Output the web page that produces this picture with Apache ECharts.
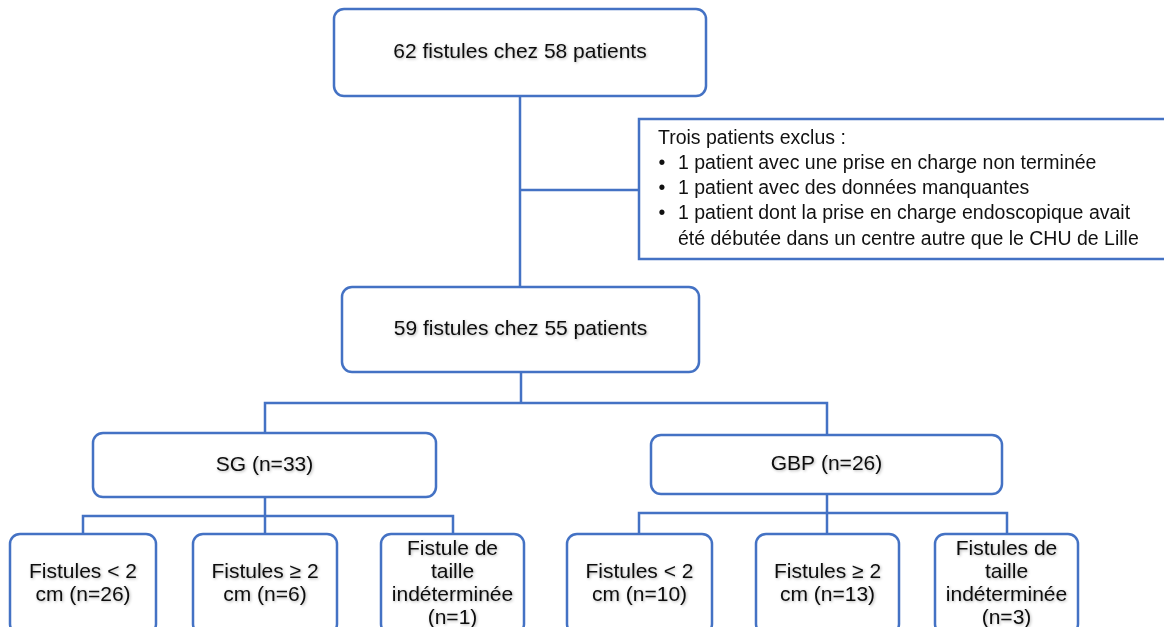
<!DOCTYPE html>
<html>
<head>
<meta charset="utf-8">
<script src="https://cdn.jsdelivr.net/npm/echarts@6/dist/echarts.min.js"></script>
<style>
html,body{margin:0;padding:0;background:#fff;}
#chart{width:1164px;height:627px;}
</style>
</head>
<body>
<div id="chart"></div>
<script>
// ---- data (text content) ----
const stageLabels = ['62 fistules chez 58 patients', '59 fistules chez 55 patients'];
const groupLabels = ['SG (n=33)', 'GBP (n=26)'];
const subgroupLabels = [
  'Fistules < 2\ncm (n=26)',
  'Fistules \u2265 2\ncm (n=6)',
  'Fistule de\ntaille\nind\u00e9termin\u00e9e\n(n=1)',
  'Fistules < 2\ncm (n=10)',
  'Fistules \u2265 2\ncm (n=13)',
  'Fistules de\ntaille\nind\u00e9termin\u00e9e\n(n=3)'
];
const exclusionTitle = 'Trois patients exclus :';
const exclusionItems = [
  '1 patient avec une prise en charge non termin\u00e9e',
  '1 patient avec des donn\u00e9es manquantes',
  '1 patient dont la prise en charge endoscopique avait\n\u00e9t\u00e9 d\u00e9but\u00e9e dans un centre autre que le CHU de Lille'
];

// ---- layout (positions in diagram units) ----
const boxLayout = [
  [334, 9, 706, 96],     // stage 0
  [342, 287, 699, 372],  // stage 1
  [93, 433, 436, 497],   // SG
  [651, 435, 1002, 494], // GBP
  [10, 534, 156, 634],
  [193, 534, 337, 634],
  [381, 534, 524, 634],
  [567, 534, 712, 634],
  [756, 534, 899, 634],
  [935, 534, 1078, 634]
];
const sideBoxLayout = [[639, 119, 1180, 259]];
const connectorLayout = [
  [[520, 96], [520, 287]],
  [[520, 190], [639, 190]],
  [[521, 372], [521, 403]],
  [[265, 433], [265, 403], [827, 403], [827, 435]],
  [[265, 497], [265, 534]],
  [[83, 534], [83, 516], [453, 516], [453, 534]],
  [[827, 494], [827, 534]],
  [[639, 534], [639, 513], [1007, 513], [1007, 534]]
];

const allLabels = stageLabels.concat(groupLabels, subgroupLabels);
const BLUE = '#4472C4';
const FONT = '"Liberation Sans", Arial, sans-serif';

const chart = echarts.init(document.getElementById('chart'), null, {renderer: 'canvas'});

function renderBox(params, api) {
  const p0 = api.coord([api.value(0), api.value(1)]);
  const p1 = api.coord([api.value(2), api.value(3)]);
  const idx = api.value(4);
  const w = p1[0] - p0[0], h = p1[1] - p0[1];
  return {
    type: 'group',
    children: [
      {type: 'rect', shape: {x: p0[0], y: p0[1], width: w, height: h, r: 10},
       style: {fill: '#fff', stroke: BLUE, lineWidth: 2.5}},
      {type: 'text', x: p0[0] + w / 2, y: p0[1] + h / 2,
       style: {text: allLabels[idx], fontSize: 21, fontFamily: FONT, fill: '#0d0d0d',
               align: 'center', verticalAlign: 'middle', lineHeight: 23,
               textShadowColor: 'rgba(0,0,0,0.3)', textShadowBlur: 3,
               textShadowOffsetX: 1, textShadowOffsetY: 1}}
    ]
  };
}

function renderSide(params, api) {
  const p0 = api.coord([api.value(0), api.value(1)]);
  const p1 = api.coord([api.value(2), api.value(3)]);
  const w = p1[0] - p0[0], h = p1[1] - p0[1];
  const fs = 19.5, lh = 25.3;
  const children = [
    {type: 'rect', shape: {x: p0[0], y: p0[1], width: w, height: h},
     style: {fill: '#fff', stroke: BLUE, lineWidth: 2.5}},
    {type: 'text', x: p0[0] + 19, y: p0[1] + 20,
     style: {text: exclusionTitle, fontSize: fs, fontFamily: FONT, fill: '#111',
             align: 'left', verticalAlign: 'middle'}}
  ];
  let line = 0;
  exclusionItems.forEach(function (item) {
    const y = p0[1] + 44.5 + line * lh;
    children.push({type: 'text', x: p0[0] + 23, y: y,
      style: {text: '\u2022', fontSize: fs, fontFamily: FONT, fill: '#111',
              align: 'center', verticalAlign: 'middle'}});
    children.push({type: 'text', x: p0[0] + 39, y: y - lh / 2,
      style: {text: item, fontSize: fs, fontFamily: FONT, fill: '#111',
              align: 'left', verticalAlign: 'top', lineHeight: lh}});
    line += item.split('\n').length;
  });
  return {type: 'group', children: children};
}

const option = {
  animation: false,
  grid: {left: 0, right: 0, top: 0, bottom: 0},
  xAxis: {type: 'value', min: 0, max: 1164, show: false},
  yAxis: {type: 'value', min: 0, max: 627, inverse: true, show: false},
  series: [
    {
      type: 'lines',
      coordinateSystem: 'cartesian2d',
      polyline: true,
      silent: true,
      z: 1,
      lineStyle: {color: BLUE, width: 2.5, opacity: 1},
      data: connectorLayout.map(function (c) { return {coords: c}; })
    },
    {
      type: 'custom',
      z: 3,
      clip: false,
      silent: true,
      renderItem: renderSide,
      encode: {x: [0, 2], y: [1, 3]},
      data: sideBoxLayout
    },
    {
      type: 'custom',
      z: 3,
      clip: false,
      silent: true,
      renderItem: renderBox,
      encode: {x: [0, 2], y: [1, 3]},
      data: boxLayout.map(function (b, i) { return b.concat([i]); })
    }
  ]
};
chart.setOption(option);
</script>
</body>
</html>
